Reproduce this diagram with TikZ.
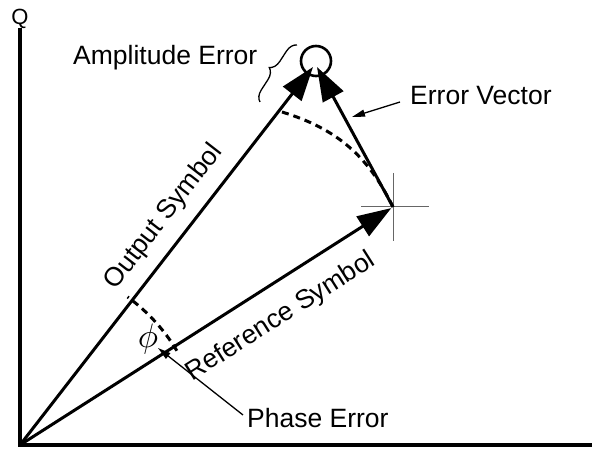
\documentclass[tikz,border=0pt]{standalone}
\usepackage{graphicx}
\usepackage{fontspec}
\setmainfont{Liberation Sans}
\usetikzlibrary{arrows.meta,decorations.pathreplacing}
\begin{document}
\begin{tikzpicture}[x=1pt,y=1pt,
  vec/.style={line width=3pt,-{Triangle[length=34pt,width=23pt]}},
  axis/.style={line width=3.5pt},
  dsh/.style={line width=3pt,dash pattern=on 7pt off 5pt},
  lbl/.style={font=\fontsize{26.5}{31}\selectfont,inner sep=0pt},
  callout/.style={line width=1.3pt,-{Triangle[length=13pt,width=7pt]}},
  cross/.style={line width=1pt,draw=black!60}]
\useasboundingbox (0,0) rectangle (595,455);
% key points
\coordinate (O) at (20,10);
\coordinate (Ytop) at (20,427);
\coordinate (Xend) at (592,10);
\coordinate (P) at (313,388);
\coordinate (R) at (393,248);
\coordinate (Etip) at (317,388);
\coordinate (C) at (316,394);
\coordinate (A1) at (282,343);
% axes
\draw[axis] (Ytop) -- (O) -- (Xend);
\node[font=\fontsize{22}{26}\selectfont,inner sep=0pt,anchor=base] (q) at (20,430) {Q};
% crosshair
\coordinate (ch1) at (393,282);
\coordinate (ch2) at (393,214);
\coordinate (ch3) at (361,248);
\coordinate (ch4) at (429,248);
\draw[cross] (ch1) -- (ch2);
\draw[cross] (ch3) -- (ch4);
% dashed arcs
\draw[dsh] (A1) to[out=-17,in=116] (R);
\draw[dsh] (O) ++(31:183) arc[start angle=31,end angle=54,radius=183];
% circle
\draw[line width=2.6pt] (C) circle[radius=15];
% vectors
\draw[vec,shorten >=2pt] (O) -- (R);
\draw[vec] (O) -- (P);
\draw[vec] (R) -- (Etip);
% labels on vectors
\node[lbl,rotate=52.2] (outl) at (164,238) {Output Symbol};
\node[inner sep=0pt] (phi) at (148,116) {\scalebox{3.4}{$\phi$}};
\node[lbl,rotate=32.4] (refl) at (281,138) {Reference Symbol};
% callouts
\node[lbl,anchor=base west] (pe) at (247,27) {Phase Error};
\coordinate (pet) at (243,40);
\coordinate (peh) at (158,107);
\draw[callout] (pet) -- (peh);
\node[lbl,anchor=base west] (ev) at (410,350) {Error Vector};
\coordinate (evt) at (400,353);
\coordinate (evh) at (352,338);
\draw[callout] (evt) -- (evh);
\node[lbl,anchor=base west] (ae) at (73,390) {Amplitude Error};
\coordinate (b1) at (260,353);
\coordinate (b2) at (297,410);
\draw[line width=1.3pt,decorate,decoration={brace,amplitude=11pt}] (b1) -- (b2);
\end{tikzpicture}
\end{document}
